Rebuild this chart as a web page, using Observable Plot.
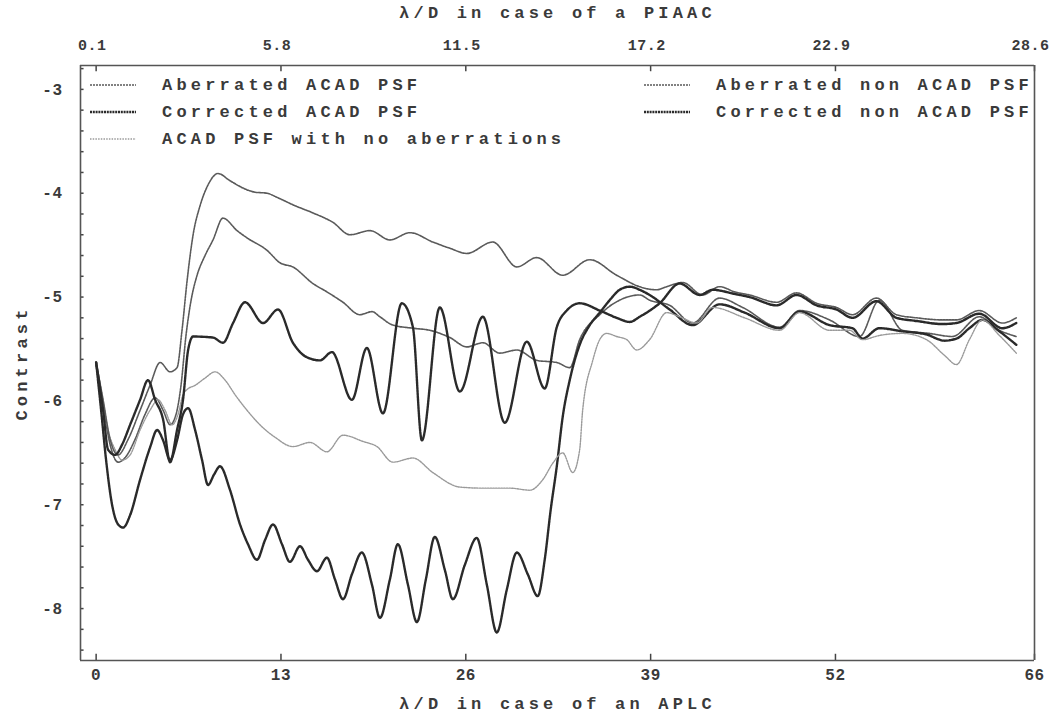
<!DOCTYPE html>
<html>
<head>
<meta charset="utf-8">
<script src="https://cdn.jsdelivr.net/npm/d3@7"></script>
<script src="https://cdn.jsdelivr.net/npm/@observablehq/plot@0.6"></script>
<style>
  html, body { margin: 0; padding: 0; background: #fff; }
  #wrap { position: relative; width: 1053px; height: 721px; font-family: "Liberation Mono", "DejaVu Sans Mono", monospace; }
  .leg { position: absolute; display: flex; align-items: center; font-size: 17px; font-weight: bold; letter-spacing: 4.2px; color: #3a3a3a; white-space: nowrap; }
  .leg svg { margin-right: 24px; }
  #wrap svg g[aria-label$="axis label"] text { font-size: 17px; letter-spacing: 4.2px; }
  #wrap svg g[aria-label$="tick label"] text { letter-spacing: 0.5px; }
</style>
</head>
<body>
<div id="wrap"></div>
<script>
// ---- tick labels ----
const aplcTicks = [0, 13, 26, 39, 52, 66];
const piaacLabels = ["0.1", "5.8", "11.5", "17.2", "22.9", "28.6"];
const contrastTicks = [-3, -4, -5, -6, -7, -8];
const contrastMinor = d3.range(-2.8, -8.41, -0.2).map(v => +v.toFixed(1));

// ---- series names ----
const seriesNames = [
  "Aberrated ACAD PSF",
  "Corrected ACAD PSF",
  "ACAD PSF with no aberrations",
  "Aberrated non ACAD PSF",
  "Corrected non ACAD PSF"
];

// ---- series values: [lambda/D (APLC), log10 contrast] ----
const aberratedAcad = [[0,-5.65],[0.49,-6.04],[0.98,-6.42],[1.55,-6.59],[2.18,-6.52],[2.74,-6.37],[3.44,-6.13],[4.15,-5.97],[4.71,-6.09],[5.2,-6.23],[5.62,-6.13],[5.97,-5.85],[6.32,-5.37],[6.68,-5.03],[7.1,-4.79],[7.66,-4.6],[8.22,-4.45],[8.92,-4.24],[9.91,-4.36],[10.61,-4.43],[12.02,-4.55],[12.93,-4.67],[13.84,-4.71],[15.25,-4.87],[16.23,-4.95],[17.36,-5.05],[18.55,-5.17],[19.4,-5.14],[19.96,-5.19],[20.87,-5.27],[22.28,-5.3],[23.47,-5.32],[24.88,-5.39],[26.07,-5.48],[27.2,-5.44],[28.39,-5.54],[29.59,-5.51],[30.99,-5.61],[32.4,-5.63],[33.31,-5.68],[34.01,-5.41],[35.42,-5.17],[36.82,-5.03],[38.23,-4.98],[38.93,-5.03],[40.34,-5.08],[41.95,-5.25],[43.85,-5.01],[45.47,-5.1],[48.07,-5.29],[49.47,-5.13],[51.58,-5.22],[53.69,-5.38],[55.09,-5.03],[56.71,-5.32],[58.61,-5.35],[60.22,-5.38],[62.12,-5.19],[63.53,-5.32],[64.72,-5.38]];

const correctedAcad = [[0,-5.63],[0.35,-6.09],[0.7,-6.57],[1.12,-7.0],[1.55,-7.19],[1.9,-7.22],[2.39,-7.1],[3.09,-6.76],[3.79,-6.45],[4.29,-6.28],[4.71,-6.38],[5.2,-6.57],[5.69,-6.38],[6.11,-6.13],[6.47,-6.07],[6.96,-6.28],[7.45,-6.57],[7.87,-6.81],[8.29,-6.71],[8.71,-6.63],[9.42,-6.86],[10.12,-7.19],[10.68,-7.38],[11.31,-7.53],[11.88,-7.34],[12.44,-7.19],[13.07,-7.38],[13.63,-7.55],[14.34,-7.4],[14.9,-7.53],[15.53,-7.64],[16.23,-7.51],[16.8,-7.72],[17.36,-7.91],[17.99,-7.67],[18.69,-7.46],[19.4,-7.77],[19.96,-8.09],[20.66,-7.72],[21.22,-7.38],[21.93,-7.77],[22.56,-8.13],[23.19,-7.72],[23.82,-7.31],[24.53,-7.63],[25.09,-7.91],[25.93,-7.58],[26.77,-7.32],[27.48,-7.77],[28.18,-8.23],[28.88,-7.82],[29.59,-7.46],[30.36,-7.67],[31.06,-7.88],[31.55,-7.53],[31.97,-7.05],[32.4,-6.63],[32.82,-6.15],[33.31,-5.8],[34.01,-5.46],[34.72,-5.27],[35.42,-5.15],[36.12,-5.03],[36.82,-4.93],[37.53,-4.9],[38.23,-4.93],[38.93,-4.98],[40.34,-5.12],[41.95,-5.27],[43.85,-5.07],[45.61,-5.15],[48.07,-5.3],[49.47,-5.14],[51.58,-5.27],[53.2,-5.3],[53.9,-5.4],[55.09,-5.3],[56.71,-5.33],[58.4,-5.36],[59.66,-5.42],[60.51,-5.4],[61.42,-5.3],[62.33,-5.22],[63.53,-5.33],[64.72,-5.46]];

const noAberrAcad = [[0,-5.63],[0.42,-5.94],[0.84,-6.28],[1.34,-6.47],[1.83,-6.57],[2.39,-6.52],[3.09,-6.28],[3.79,-6.09],[4.36,-5.99],[4.85,-6.09],[5.34,-6.23],[5.76,-6.13],[6.11,-5.94],[6.4,-5.89],[6.96,-5.85],[7.66,-5.78],[8.36,-5.72],[9.07,-5.8],[9.77,-5.94],[10.61,-6.09],[11.52,-6.23],[12.58,-6.35],[13.84,-6.44],[15.04,-6.4],[16.23,-6.49],[17.36,-6.33],[18.76,-6.39],[19.75,-6.44],[20.87,-6.59],[22.28,-6.55],[23.68,-6.69],[25.58,-6.83],[27.2,-6.84],[29.09,-6.84],[30.5,-6.86],[31.41,-6.76],[32.12,-6.6],[32.82,-6.5],[33.52,-6.69],[34.01,-6.47],[34.22,-6.09],[34.93,-5.61],[35.42,-5.41],[35.91,-5.35],[36.61,-5.38],[37.32,-5.41],[38.02,-5.51],[38.93,-5.41],[40.13,-5.15],[41.04,-5.19],[42.24,-5.25],[43.36,-5.1],[45.61,-5.2],[48.07,-5.32],[49.47,-5.15],[51.58,-5.32],[52.99,-5.32],[53.9,-5.41],[55.09,-5.37],[56.71,-5.35],[58.4,-5.41],[59.66,-5.56],[60.51,-5.65],[61.42,-5.41],[62.33,-5.22],[63.53,-5.37],[64.72,-5.54]];

const aberratedNonAcad = [[0,-5.63],[0.49,-5.99],[0.98,-6.37],[1.55,-6.52],[2.25,-6.37],[3.09,-6.09],[3.79,-5.85],[4.5,-5.63],[5.2,-5.72],[5.69,-5.68],[6.04,-5.32],[6.4,-4.84],[6.82,-4.4],[7.31,-4.12],[7.87,-3.92],[8.57,-3.81],[9.42,-3.88],[10.33,-3.95],[11.17,-3.99],[12.02,-4.0],[12.72,-4.04],[13.98,-4.12],[15.25,-4.19],[16.65,-4.28],[17.85,-4.4],[19.26,-4.36],[20.66,-4.45],[22.07,-4.38],[23.68,-4.47],[24.88,-4.53],[26.07,-4.58],[27.9,-4.47],[29.59,-4.71],[30.99,-4.62],[32.82,-4.79],[34.72,-4.64],[36.61,-4.79],[38.44,-4.91],[39.42,-4.93],[40.13,-4.9],[41.25,-4.86],[42.66,-4.98],[43.85,-4.9],[44.91,-4.95],[45.96,-4.98],[47.86,-5.05],[49.26,-4.96],[50.67,-5.06],[52.07,-5.1],[53.2,-5.17],[54.88,-5.01],[56.29,-5.17],[57.7,-5.2],[59.52,-5.22],[60.51,-5.22],[62.12,-5.13],[63.74,-5.25],[64.72,-5.2]];

const correctedNonAcad = [[0,-5.63],[0.49,-6.09],[0.84,-6.47],[1.34,-6.52],[1.83,-6.42],[2.39,-6.23],[3.09,-5.99],[3.65,-5.8],[4.15,-5.99],[4.71,-6.18],[5.2,-6.59],[5.69,-6.28],[6.11,-5.99],[6.47,-5.51],[6.82,-5.38],[8.22,-5.39],[8.92,-5.44],[9.63,-5.25],[10.47,-5.05],[11.74,-5.25],[12.79,-5.12],[13.84,-5.44],[14.83,-5.58],[15.74,-5.61],[16.58,-5.53],[17.99,-5.99],[19.04,-5.49],[20.17,-6.12],[21.5,-5.06],[22.28,-5.29],[22.91,-6.38],[24.17,-5.1],[25.58,-5.91],[27.2,-5.19],[28.74,-6.21],[30.29,-5.43],[31.55,-5.88],[32.4,-5.29],[33.1,-5.13],[34.01,-5.06],[35.42,-5.13],[36.61,-5.2],[37.53,-5.24],[38.23,-5.19],[39.63,-5.06],[41.04,-4.87],[42.45,-4.98],[43.36,-4.93],[44.91,-4.97],[45.96,-5.0],[47.86,-5.08],[49.26,-4.98],[50.67,-5.08],[52.07,-5.12],[53.2,-5.2],[54.88,-5.04],[56.29,-5.2],[57.7,-5.23],[59.52,-5.26],[60.51,-5.25],[62.12,-5.16],[63.74,-5.3],[64.72,-5.25]];

const seriesValues = [aberratedAcad, correctedAcad, noAberrAcad, aberratedNonAcad, correctedNonAcad];

// ---- styles (halftone greys) ----
const styles = [
  {stroke: "#5a5a5a", width: 1.6, dash: "2,1"},
  {stroke: "#2a2a2a", width: 2.4, dash: "2,0.8"},
  {stroke: "#9a9a9a", width: 1.4, dash: "1.5,1.2"},
  {stroke: "#5a5a5a", width: 1.6, dash: "2,1"},
  {stroke: "#2a2a2a", width: 2.4, dash: "2,0.8"}
];

const rows = seriesNames.map((name, i) => seriesValues[i].map(([x, y]) => ({series: name, x, y})));

const W = 1053, H = 721;
const fontFamily = '"Liberation Mono", "DejaVu Sans Mono", monospace';
const xMin = -1.1, xMax = 66, yMin = -8.5, yMax = -2.77;

const chart = Plot.plot({
  width: W,
  height: H,
  marginLeft: 80,
  marginRight: 19,
  marginTop: 65,
  marginBottom: 61,
  style: {fontFamily, fontSize: "16px", fontWeight: "bold", color: "#3a3a3a", background: "#fff"},
  x: {type: "linear", domain: [xMin, xMax]},
  y: {type: "linear", domain: [yMin, yMax]},
  marks: [
    Plot.axisX({anchor: "bottom", ticks: aplcTicks, tickSize: 0, tickPadding: 8, tickFormat: d => String(d),
      label: "λ/D in case of an APLC", labelAnchor: "center", labelOffset: 48, labelArrow: "none"}),
    Plot.axisX({anchor: "top", ticks: aplcTicks, tickSize: 0, tickPadding: 16, dx: -4, fontSize: 15,
      tickFormat: d => piaacLabels[aplcTicks.indexOf(d)],
      label: "λ/D in case of a PIAAC", labelAnchor: "center", labelOffset: 60, labelArrow: "none"}),
    Plot.axisY({anchor: "left", ticks: contrastTicks, tickSize: 0, tickPadding: 18,
      tickFormat: d => "-" + Math.abs(d),
      label: "Contrast", labelAnchor: "center", labelOffset: 66, labelArrow: "none"}),
    Plot.ruleY(contrastMinor, {y: d => d, x1: xMin, x2: xMin + 0.25, stroke: "#444", strokeWidth: 1.5}),
    Plot.ruleX(aplcTicks, {x: d => d, y1: yMin, y2: yMin + 0.06, stroke: "#444", strokeWidth: 1.5}),
    Plot.ruleX(aplcTicks, {x: d => d, y1: yMax, y2: yMax - 0.06, stroke: "#444", strokeWidth: 1.5}),
    // frame
    Plot.ruleX([xMin, xMax], {x: d => d, y1: yMin, y2: yMax, stroke: "#555", strokeWidth: 1.6}),
    Plot.ruleY([yMin, yMax], {y: d => d, x1: xMin, x2: xMax, stroke: "#555", strokeWidth: 1.6}),
    ...rows.map((data, i) => Plot.line(data, {
      x: "x", y: "y", stroke: styles[i].stroke, strokeWidth: styles[i].width,
      strokeDasharray: styles[i].dash, curve: "monotone-x"
    }))
  ]
});

const wrap = document.getElementById("wrap");
wrap.appendChild(chart);

// ---- legend (inside the plot frame) ----
const legendPos = [
  {left: 88, top: 72},
  {left: 88, top: 99},
  {left: 88, top: 126},
  {left: 642, top: 72},
  {left: 642, top: 99}
];
seriesNames.forEach((name, i) => {
  const d = document.createElement("div");
  d.className = "leg";
  d.style.left = legendPos[i].left + "px";
  d.style.top = legendPos[i].top + "px";
  const s = styles[i];
  d.innerHTML = `<svg width="50" height="26"><line x1="2" x2="48" y1="13" y2="13" stroke="${s.stroke}" stroke-width="${s.width}" stroke-dasharray="${s.dash}"/></svg><span>${name}</span>`;
  wrap.appendChild(d);
});
</script>
</body>
</html>
